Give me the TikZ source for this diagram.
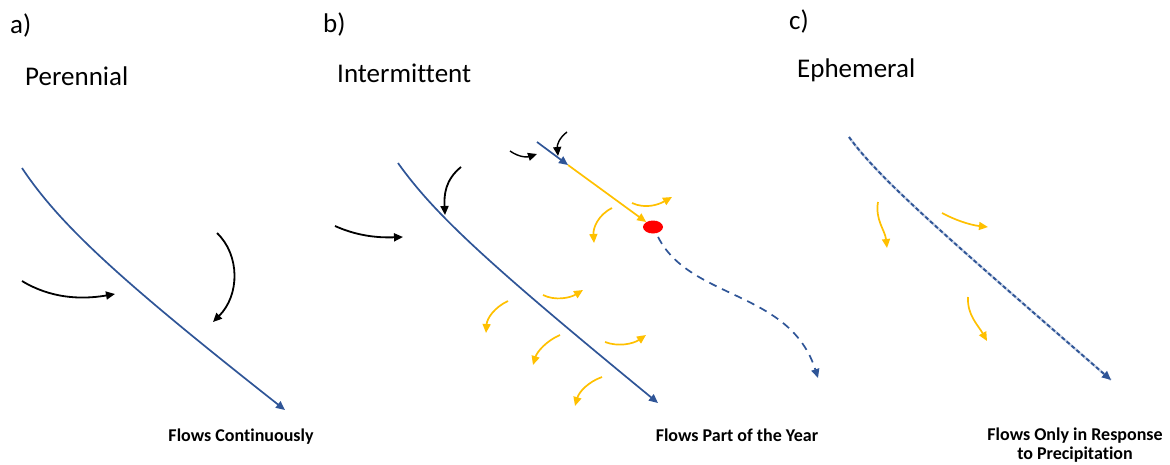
\documentclass[tikz,border=0pt]{standalone}
\usepackage{fontspec}
\setmainfont{Carlito}[Ligatures=CommonOff]
\usetikzlibrary{arrows.meta,shapes.geometric}
\definecolor{streamblue}{RGB}{47,85,151}
\definecolor{lossgold}{RGB}{255,192,0}
\definecolor{dashlight}{RGB}{200,210,228}
\begin{document}
\begin{tikzpicture}[x=1pt,y=-1pt,
    tag/.style={anchor=base west, inner sep=0pt, font=\fontsize{27}{32}\selectfont},
    caption/.style={anchor=base, inner sep=0pt, align=center, font=\fontsize{18}{19}\selectfont\bfseries},
    stream/.style={streamblue, line width=1.7pt, -{Triangle[length=9pt,width=8pt]}},
    feed/.style={black, line width=1.8pt, -{Triangle[length=9pt,width=8pt]}},
    loss/.style={lossgold, line width=1.7pt, -{Triangle[length=9pt,width=8pt]}},
    dryspot/.style={ellipse, fill=red, minimum width=20pt, minimum height=13pt, inner sep=0pt}]
  \useasboundingbox (0,0) rectangle (1170,464);
  % --- headings
  \node[tag] (a-tag) at (10,33) {a)};
  \node[tag] (a-name) at (25,85) {Perennial};
  \node[tag] (b-tag) at (323,32) {b)};
  \node[tag] (b-name) at (337,82) {Intermittent};
  \node[tag] (c-tag) at (789,29) {c)};
  \node[tag] (c-name) at (797,77) {Ephemeral};

  % --- a) perennial: one reach, water always coming in
  \draw[stream] (22,168) .. controls (60,225) and (120,280) .. (285,410);
  \draw[feed] (22,281) .. controls (50,298) and (80,300) .. (115,294);
  \draw[feed] (217,233) .. controls (240,255) and (240,295) .. (213,322);
  \node[caption] (a-text) at (241,441) {Flows Continuously};

  % --- b) intermittent: wet reach, then a drying reach that stops at the red spot
  \draw[stream] (398,163) .. controls (435,215) and (490,265) .. (658,403);
  \draw[feed] (335,226) .. controls (355,235) and (375,238) .. (403,237);
  \draw[feed] (461,167) .. controls (445,180) and (444,195) .. (445,215);
  \coordinate (b-top) at (537,142);
  \coordinate (b-head) at (568,165);
  \draw[stream] (b-top) -- (b-head);
  \draw[feed, line width=1.4pt] (510,151) .. controls (520,158) and (528,157) .. (537,154);
  \draw[feed, line width=1.4pt] (567,132) .. controls (559,138) and (557,145) .. (558,156);
  \node[dryspot] (dry) at (653,227) {};
  \draw[loss] (b-head) -- (dry);
  \draw[stream, dashed, dash pattern=on 8pt off 6pt, shorten <=4pt]
    (dry) .. controls (690,300) and (790,290) .. (818,378);
  % losses to the ground
  \draw[loss] (632,203) .. controls (645,209) and (658,205) .. (672,197);
  \draw[loss] (612,208) .. controls (598,215) and (593,228) .. (594,243);
  \draw[loss] (543,295) .. controls (555,301) and (570,298) .. (583,290);
  \draw[loss] (508,301) .. controls (495,307) and (487,318) .. (486,333);
  \draw[loss] (560,335) .. controls (546,341) and (537,352) .. (533,365);
  \draw[loss] (605,342) .. controls (618,347) and (633,344) .. (646,335);
  \draw[loss] (602,377) .. controls (588,382) and (579,392) .. (575,406);
  \node[caption] (b-text) at (737,441) {Flows Part of the Year};

  % --- c) ephemeral: dashed reach, losing water only
  \draw[dashlight, line width=2.4pt] (849,137) .. controls (880,180) and (950,240) .. (1111,380);
  \draw[stream, line width=1.9pt, dash pattern=on 4pt off 2.5pt]
    (849,137) .. controls (880,180) and (950,240) .. (1111,380);
  \draw[loss] (878,202) .. controls (875,220) and (885,230) .. (887,248);
  \draw[loss] (942,213) .. controls (955,220) and (970,225) .. (988,227);
  \draw[loss] (968,297) .. controls (967,315) and (978,325) .. (987,341);
  \node[caption] (c-text) at (1075,459) {Flows Only in Response\\to Precipitation};
\end{tikzpicture}
\end{document}
